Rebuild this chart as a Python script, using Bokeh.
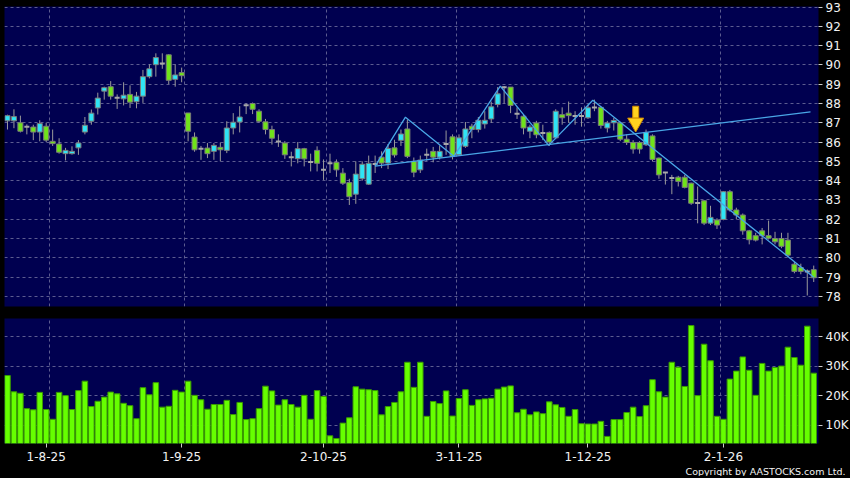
from bokeh.plotting import figure
from bokeh.models import (ColumnDataSource, Range1d, FixedTicker, Title, Grid,
                          GlobalInlineStyleSheet)
from bokeh.layouts import column
from bokeh.embed import file_html
from bokeh.resources import INLINE

# ---------------- data ----------------
opens = [87.10, 87.10, 87.00, 86.80, 86.78, 86.52, 86.82, 86.04, 85.90, 85.40,
         85.40, 85.70, 86.52, 87.08, 87.77, 88.64, 88.87, 88.32, 88.24, 88.47,
         88.09, 88.38, 89.39, 90.01, 90.10, 90.52, 89.25, 89.60, 87.51, 86.26,
         85.68, 85.69, 85.52, 85.73, 85.57, 86.73, 87.04, 87.90, 88.00, 87.60,
         87.05, 86.65, 86.05, 85.95, 85.24, 85.14, 85.66, 84.98, 85.57, 84.58,
         84.92, 84.95, 84.39, 83.90, 83.30, 84.10, 83.82, 84.88, 85.22, 84.91,
         85.70, 86.09, 86.68, 85.00, 84.56, 85.36, 85.52, 85.22, 85.92, 86.27,
         85.34, 85.78, 86.82, 86.65, 86.94, 87.20, 87.95, 88.85, 88.85, 87.48,
         87.34, 86.56, 86.99, 86.48, 86.50, 86.22, 87.42, 87.50, 87.36, 87.36,
         87.26, 87.80, 87.80, 86.73, 87.00, 86.99, 86.15, 85.98, 85.98, 85.86,
         86.32, 85.17, 84.43, 84.15, 84.18, 84.18, 83.87, 82.85, 82.96, 81.80,
         81.96, 81.99, 83.43, 82.48, 82.22, 81.40, 81.15, 81.40, 81.15, 81.00,
         81.00, 80.92, 79.67, 79.50, 79.31, 79.39]
closes = [87.37, 87.32, 86.56, 86.78, 86.52, 86.96, 86.10, 85.92, 85.47, 85.57,
          85.52, 85.95, 86.87, 87.50, 88.28, 88.82, 88.38, 88.28, 88.43, 88.07,
          88.38, 89.39, 89.80, 90.38, 90.05, 89.20, 89.48, 89.44, 86.56, 85.60,
          85.64, 85.40, 85.83, 85.60, 86.73, 87.03, 87.30, 87.92, 87.70, 87.08,
          86.65, 86.20, 86.00, 85.34, 85.20, 85.66, 85.13, 84.95, 84.90, 84.55,
          84.88, 84.56, 83.87, 83.17, 84.34, 84.85, 84.90, 84.85, 84.91, 85.67,
          85.33, 86.42, 85.26, 84.44, 85.07, 85.32, 85.22, 85.52, 85.88, 85.26,
          86.22, 86.68, 86.65, 87.13, 87.13, 87.83, 88.50, 88.83, 87.90, 87.46,
          86.73, 86.78, 86.38, 86.46, 86.00, 87.60, 87.26, 87.37, 87.34, 87.34,
          87.78, 87.78, 86.86, 86.99, 87.12, 86.15, 85.98, 85.64, 85.64, 86.50,
          85.10, 84.30, 84.41, 84.12, 83.96, 83.65, 82.83, 82.83, 81.80, 82.10,
          81.70, 83.43, 82.48, 82.22, 81.40, 80.94, 80.92, 81.15, 81.02, 80.83,
          80.60, 80.14, 79.30, 79.30, 79.29, 78.97]
highs = [87.42, 87.70, 87.37, 86.92, 86.90, 87.13, 87.00, 86.65, 86.20, 85.70,
         85.78, 86.10, 87.30, 87.69, 88.56, 88.87, 89.16, 88.47, 89.10, 88.94,
         88.60, 89.74, 90.03, 90.60, 90.60, 90.55, 90.03, 89.86, 87.51, 86.50,
         85.80, 85.95, 85.95, 85.98, 87.08, 87.50, 87.86, 88.00, 88.05, 87.70,
         87.20, 86.85, 86.40, 86.05, 85.50, 86.00, 85.70, 85.40, 85.78, 85.10,
         85.40, 85.10, 84.65, 84.10, 85.00, 85.00, 85.30, 85.30, 85.52, 85.90,
         86.12, 86.65, 87.17, 85.20, 85.30, 85.66, 85.75, 85.83, 86.60, 86.40,
         86.40, 87.04, 86.95, 87.30, 87.60, 88.10, 88.85, 88.90, 88.85, 87.80,
         87.45, 86.90, 87.10, 86.90, 86.55, 87.70, 87.80, 88.10, 87.60, 87.80,
         87.95, 88.20, 87.85, 87.10, 87.25, 87.05, 86.40, 86.10, 86.05, 86.65,
         86.40, 85.20, 84.45, 84.30, 84.25, 84.30, 83.90, 83.70, 83.00, 82.70,
         82.05, 83.45, 83.52, 82.60, 82.30, 81.45, 81.30, 81.55, 81.93, 81.35,
         81.30, 81.30, 79.80, 79.70, 79.40, 79.60]
lows = [86.65, 86.72, 86.50, 86.40, 86.10, 86.04, 86.00, 85.80, 85.40, 85.05,
        85.35, 85.34, 86.40, 86.90, 87.43, 88.20, 88.20, 87.72, 87.90, 87.77,
        87.75, 88.03, 89.30, 89.39, 89.80, 89.00, 88.87, 89.10, 86.04, 85.50,
        85.08, 85.17, 85.08, 85.00, 85.43, 86.40, 86.50, 87.45, 87.45, 87.00,
        86.40, 85.87, 85.75, 85.13, 84.74, 84.90, 84.74, 84.48, 84.48, 84.04,
        84.40, 84.20, 83.78, 82.74, 82.80, 84.00, 83.78, 84.40, 84.65, 84.60,
        85.20, 85.80, 85.17, 84.18, 84.40, 85.03, 84.95, 85.10, 85.34, 85.10,
        85.30, 85.70, 86.20, 86.50, 86.70, 87.00, 87.80, 88.00, 87.50, 87.20,
        86.40, 86.20, 86.20, 86.10, 85.80, 86.15, 86.90, 87.00, 86.90, 86.80,
        87.20, 87.60, 86.70, 86.50, 86.60, 86.05, 85.85, 85.40, 85.40, 85.80,
        85.00, 84.10, 83.80, 83.30, 83.70, 83.60, 82.75, 81.79, 81.70, 81.70,
        81.50, 81.95, 82.40, 82.00, 81.20, 80.70, 80.85, 80.70, 80.95, 80.70,
        80.50, 80.05, 79.20, 79.15, 78.05, 78.75]
volumes_k = [26.8, 21.3, 20.8, 15.6, 15.2, 21.1, 15.3, 12.0, 21.1, 20.0,
             15.3, 21.7, 24.9, 16.3, 18.1, 19.5, 21.2, 20.6, 17.4, 16.6,
             12.2, 22.7, 20.3, 24.4, 16.1, 16.4, 21.8, 21.2, 24.9, 20.1,
             18.6, 15.4, 17.0, 17.0, 18.4, 13.6, 17.7, 11.9, 12.2, 15.6,
             23.2, 21.6, 16.8, 18.6, 17.0, 16.1, 20.1, 12.0, 21.7, 19.7,
             6.4, 5.5, 10.7, 12.5, 23.0, 22.2, 22.0, 21.7, 13.5, 16.3,
             17.7, 21.3, 31.3, 22.8, 31.3, 13.0, 18.0, 17.3, 21.6, 13.1,
             19.0, 22.0, 16.7, 18.6, 18.9, 19.1, 22.2, 22.9, 23.3, 14.2,
             15.4, 13.5, 14.5, 13.9, 17.9, 16.9, 16.0, 13.0, 15.3, 10.5,
             10.4, 10.4, 11.3, 6.2, 11.9, 11.9, 14.3, 16.1, 12.9, 16.6,
             25.4, 21.3, 19.5, 31.3, 29.6, 23.1, 43.7, 20.0, 37.4, 31.8,
             13.0, 12.0, 25.6, 28.3, 33.1, 28.6, 20.1, 30.9, 28.3, 29.5,
             30.0, 36.4, 32.9, 30.3, 43.5, 27.6]

date_idx = [6, 27, 49, 70, 90, 111]
date_labels = ["1-8-25", "1-9-25", "2-10-25", "3-11-25", "1-12-25", "2-1-26"]
grid_idx = [6.5, 27.4, 49.5, 69.6, 89.5, 110.5]
price_ticks = list(range(78, 94))
volume_ticks = [10, 20, 30, 40]
volume_labels = ["10K", "20K", "30K", "40K"]

# technical-analysis drawings (bar index, price)
zigzag_idx = [57.0, 61.7, 69.2, 76.4, 83.9, 90.75, 125.0]
zigzag_px = [84.75, 87.29, 85.26, 88.90, 85.83, 88.17, 79.00]
support_idx = [57.0, 124.5]
support_px = [84.75, 87.57]
arrow_idx = 97.4
arrow_tip_px = 86.64

# ---------------- styling ----------------
NAVY = "#000050"
CYAN = "#2fe4f5"
GREEN = "#6fe31a"
WICK = "#9a9a9a"
EDGE = "#7a7a7a"
GRIDC = "#5c5c90"
TREND = "#49a6e6"
VOL_GREEN = "#66ff00"
VOL_EDGE = "#3a9a00"
FONT = "DejaVu Sans"

PX_LO, PX_HI = 77.48, 93.026
VOL_LO, VOL_HI = 3.8, 46.1
FRAME_W, PRICE_H, VOL_H = 814, 300, 125
X_LO, X_HI = -0.465, 125.74

n = len(opens)
idx = list(range(n))
DOJI_TOL = 0.06
BODY_W = 0.78

up = dict(x=[], top=[], bottom=[])
dn = dict(x=[], top=[], bottom=[])
dj = dict(x0=[], x1=[], y=[])
for i in idx:
    o, c = opens[i], closes[i]
    if abs(c - o) < DOJI_TOL:
        dj["x0"].append(i - BODY_W / 2)
        dj["x1"].append(i + BODY_W / 2)
        dj["y"].append((o + c) / 2)
    elif c > o:
        up["x"].append(i); up["top"].append(c); up["bottom"].append(o)
    else:
        dn["x"].append(i); dn["top"].append(o); dn["bottom"].append(c)

wick_src = ColumnDataSource(dict(x=idx, high=highs, low=lows))


def style_axis(ax):
    ax.axis_line_color = None
    ax.major_tick_line_color = "#cccccc"
    ax.major_tick_out = 4
    ax.major_tick_in = 0
    ax.minor_tick_line_color = None
    ax.major_label_text_color = "#f2f2f2"
    ax.major_label_text_font = FONT
    ax.major_label_text_font_size = "12px"
    ax.major_label_standoff = 3


def add_grids(fig, yticks):
    fig.center = [r for r in fig.center if not isinstance(r, Grid)]
    for dim, ticks in ((0, grid_idx), (1, yticks)):
        fig.add_layout(Grid(dimension=dim, ticker=FixedTicker(ticks=ticks),
                            grid_line_color=GRIDC, grid_line_dash="3 3",
                            grid_line_width=1))


# ---------------- price panel ----------------
x_range = Range1d(X_LO, X_HI)
p = figure(frame_width=FRAME_W, frame_height=PRICE_H, x_range=x_range,
           y_range=Range1d(PX_LO, PX_HI), output_backend="svg",
           toolbar_location=None, x_axis_location=None, y_axis_location="right",
           min_border_left=4, min_border_top=6, min_border_right=0,
           min_border_bottom=12, background_fill_color=NAVY,
           border_fill_color="black", outline_line_color=None)
add_grids(p, price_ticks)
style_axis(p.yaxis[0])
p.yaxis[0].ticker = FixedTicker(ticks=price_ticks)

p.segment(x0="x", y0="low", x1="x", y1="high", source=wick_src,
          line_color=WICK, line_width=1)
p.vbar(x="x", width=BODY_W, top="top", bottom="bottom",
       source=ColumnDataSource(up), fill_color=CYAN, line_color=EDGE, line_width=1)
p.vbar(x="x", width=BODY_W, top="top", bottom="bottom",
       source=ColumnDataSource(dn), fill_color=GREEN, line_color=EDGE, line_width=1)
p.segment(x0="x0", y0="y", x1="x1", y1="y", source=ColumnDataSource(dj),
          line_color="#a8a8a8", line_width=2)

p.line(support_idx, support_px, line_color=TREND, line_width=1.3)
p.line(zigzag_idx, zigzag_px, line_color=TREND, line_width=1.3)

# yellow down-arrow marker
ppp = (PX_HI - PX_LO) / PRICE_H  # price per pixel
p.rect(x=[arrow_idx], y=[arrow_tip_px + 17.5 * ppp], width=6, height=12,
       width_units="screen", height_units="screen",
       fill_color="#ffd21f", line_color="#d08a00", line_width=1)
p.scatter(x=[arrow_idx], y=[arrow_tip_px + 7 * ppp], marker="inverted_triangle",
          size=16, fill_color="#ffd21f", line_color="#d08a00", line_width=1)

# ---------------- volume panel ----------------
v = figure(frame_width=FRAME_W, frame_height=VOL_H, x_range=x_range,
           y_range=Range1d(VOL_LO, VOL_HI), output_backend="svg",
           toolbar_location=None, x_axis_location="below", y_axis_location="right",
           min_border_left=4, min_border_top=0, min_border_right=0,
           min_border_bottom=0, background_fill_color=NAVY,
           border_fill_color="black", outline_line_color=None)
add_grids(v, volume_ticks)
v.vbar(x=idx, top=volumes_k, bottom=0, width=0.86,
       fill_color=VOL_GREEN, line_color=VOL_EDGE, line_width=1)

style_axis(v.yaxis[0])
v.yaxis[0].ticker = FixedTicker(ticks=volume_ticks)
v.yaxis[0].major_label_overrides = dict(zip(volume_ticks, volume_labels))

style_axis(v.xaxis[0])
v.xaxis[0].ticker = FixedTicker(ticks=date_idx)
v.xaxis[0].major_label_overrides = dict(zip(date_idx, date_labels))
v.xaxis[0].major_label_standoff = 4

v.add_layout(Title(text="Copyright by AASTOCKS.com Ltd.", align="right",
                   text_color="#f2f2f2", text_font=FONT, text_font_size="9.5px",
                   text_font_style="normal", standoff=0, offset=-27), "below")

layout = column(p, v, spacing=0, stylesheets=[
    GlobalInlineStyleSheet(css="body { background-color: #000000; }")])

open("out.html", "w").write(file_html(layout, INLINE))
